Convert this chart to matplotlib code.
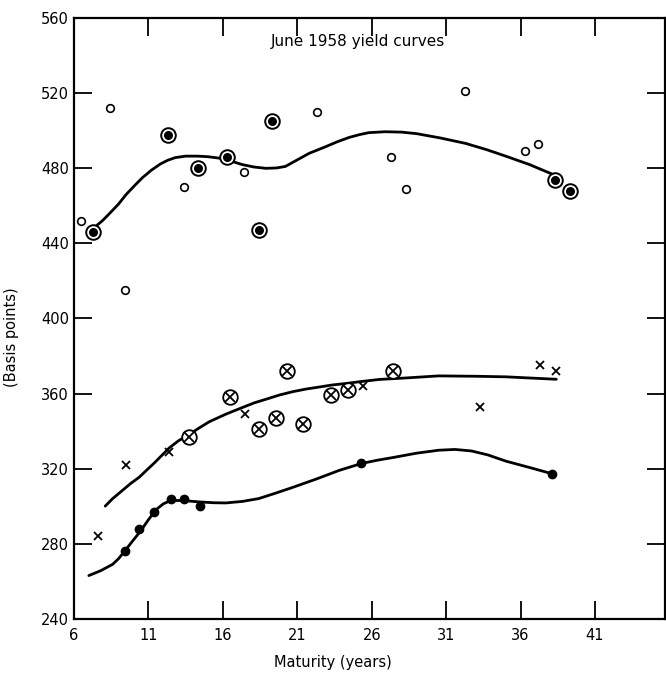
import matplotlib
matplotlib.use("Agg")
import matplotlib.pyplot as plt

# top group: open circles and ringed dots
top_open_x = [6.5, 8.4, 9.4, 13.4, 17.4, 22.3, 27.3, 28.3, 32.3, 36.3, 37.2]
top_open_y = [452, 512, 415, 470, 478, 510, 486, 469, 521, 489, 493]
top_ring_x = [7.3, 12.3, 14.3, 16.3, 18.4, 19.3, 38.3, 39.3]
top_ring_y = [446, 498, 480, 486, 447, 505, 474, 468]
top_curve_x = [7.3, 7.9, 8.4, 9.0, 9.5, 10.1, 10.6, 11.2, 11.8, 12.3, 12.8,
               13.5, 14.3, 15.0, 15.7, 16.3, 17.3, 18.1, 18.9, 19.6, 20.2,
               21.0, 21.8, 22.9, 23.7, 24.5, 25.2, 25.8, 26.9, 28.0, 29.0,
               30.6, 32.3, 33.7, 35.0, 36.6, 38.1]
top_curve_y = [448, 452, 456, 461, 466, 471, 475, 479, 482.3, 484.3, 485.7,
               486.5, 486.5, 486.2, 485.5, 484.5, 482, 480.7, 480, 480.2, 481,
               484.5, 488, 491.5, 494.2, 496.5, 498, 499, 499.5, 499.3, 498.5,
               496.2, 493.3, 490, 486.5, 482, 477]

# middle group: crosses and circled crosses
mid_cross_x = [7.6, 9.5, 12.4, 17.5, 25.4, 33.3, 37.3, 38.4]
mid_cross_y = [284, 322, 329, 349, 364, 353, 375, 372]
mid_otimes_x = [13.7, 16.5, 18.4, 19.6, 20.3, 21.4, 23.3, 24.4, 27.4]
mid_otimes_y = [337, 358, 341, 347, 372, 344, 359, 362, 372]
mid_curve_x = [8.1, 8.6, 9.2, 9.8, 10.4, 10.9, 11.4, 11.9, 12.4, 13.0, 13.7,
               14.4, 15.1, 16.2, 17.3, 18.1, 19.0, 19.8, 20.7, 21.6, 22.5,
               23.3, 24.2, 25.3, 26.5, 28.3, 30.5, 33.0, 35.0, 38.4]
mid_curve_y = [300, 304, 308, 312, 315.5, 319.3, 323, 327, 331, 334.7, 338,
               341.6, 345, 349, 352.5, 355, 357.2, 359.2, 361, 362.4, 363.5,
               364.5, 365.3, 366.4, 367.5, 368.3, 369.4, 369.2, 368.9, 367.6]

# bottom group: filled dots
bot_dot_x = [9.4, 10.4, 11.4, 12.5, 13.4, 14.5, 25.3, 38.1]
bot_dot_y = [276, 288, 297, 304, 304, 300, 323, 317]
bot_curve_x = [7.0, 7.8, 8.6, 9.0, 9.4, 9.9, 10.5, 11.0, 11.5, 12.0, 12.5,
               13.3, 14.5, 15.4, 16.2, 17.3, 18.4, 19.5, 20.7, 22.3, 23.8,
               25.3, 26.4, 27.5, 29.0, 30.5, 31.6, 32.7, 33.8, 35.0, 36.5, 38.1]
bot_curve_y = [263, 265.6, 269, 272, 276, 281, 287, 292.7, 298, 301.2, 303,
               303, 302.2, 301.8, 301.7, 302.5, 304, 306.8, 310, 314.5, 319,
               322.7, 324.5, 326, 328.2, 329.8, 330.2, 329.4, 327.3, 324, 320.8,
               317.3]

x_ticks = [6, 11, 16, 21, 26, 31, 36, 41]
y_ticks = [240, 280, 320, 360, 400, 440, 480, 520, 560]

plt.rcParams["font.family"] = ["DejaVu Sans"]
fig = plt.figure(figsize=(6.66, 6.74), dpi=100)
ax = fig.add_axes([0.111, 0.082, 0.8875, 0.891])

k = "black"
for cx, cy in [(top_curve_x, top_curve_y), (mid_curve_x, mid_curve_y),
               (bot_curve_x, bot_curve_y)]:
    ax.plot(cx, cy, color=k, lw=2.0, solid_capstyle="round",
            solid_joinstyle="round")

ax.plot(top_open_x, top_open_y, "o", ms=5.5, mfc="white", mec=k, mew=1.2, ls="none")
ax.plot(top_ring_x, top_ring_y, "o", ms=10.5, mfc="white", mec=k, mew=1.4, ls="none")
ax.plot(top_ring_x, top_ring_y, "o", ms=6.5, mfc=k, mec=k, mew=0, ls="none")

ax.plot(mid_otimes_x, mid_otimes_y, "o", ms=10.5, mfc="white", mec=k, mew=1.3, ls="none")
ax.plot(mid_otimes_x, mid_otimes_y, "x", ms=6.5, mec=k, mew=1.3, ls="none")
ax.plot(mid_cross_x, mid_cross_y, "x", ms=5.5, mec=k, mew=1.3, ls="none")

ax.plot(bot_dot_x, bot_dot_y, "o", ms=6, mfc=k, mec=k, ls="none")

ax.set_xlim(6, 45.7)
ax.set_ylim(240, 560)
ax.set_xticks(x_ticks)
ax.set_yticks(y_ticks)
ax.tick_params(direction="in", length=13, width=1.3, labelsize=10.5,
               top=True, right=True)
ax.tick_params(axis="x", pad=7)
for s in ax.spines.values():
    s.set_linewidth(1.6)

ax.text(25.1, 547.4, "June 1958 yield curves", ha="center", va="center", fontsize=11)
ax.set_ylabel("(Basis points)", fontsize=10.5)
ax.yaxis.set_label_coords(-0.093, 0.468)
ax.text(23.4, 216.7, "Maturity (years)", ha="center", va="center", fontsize=10.5,
        clip_on=False)

fig.savefig("out.png", dpi=100)
